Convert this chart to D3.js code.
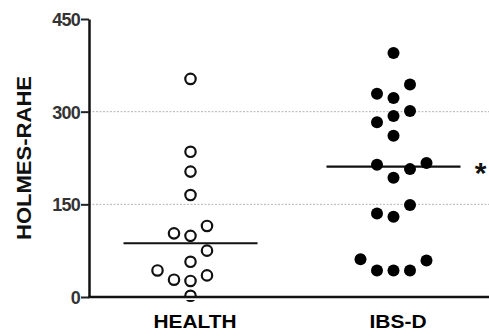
<!DOCTYPE html>
<html>
<head>
<meta charset="utf-8">
<script src="https://d3js.org/d3.v7.min.js"></script>
<style>
  body { margin: 0; background: #fff; }
  svg { display: block; font-family: "Liberation Sans", Arial, sans-serif; }
</style>
</head>
<body>
<div id="chart"></div>
<script>
// groups on the x axis
const groups = ["HEALTH", "IBS-D"];
const yTicks = [0, 150, 300, 450];

// Holmes-Rahe scores, with the swarm column of each dot
const healthValues = [353, 235, 203, 165, 103, 99, 115, 75, 57, 43, 28, 26, 35, 2];
const healthSlot   = [0, 0, 0, 0, -1, 0, 1, 1, 0, -2, -1, 0, 1, 0];
const ibsValues = [395, 344, 329, 322, 301, 293, 283, 261, 214, 207, 217, 193, 149, 135, 130, 61, 59, 43, 43, 43];
const ibsSlot   = [0, 1, -1, 0, 1, 0, -1, 0, -1, 1, 2, 0, 1, -1, 0, -2, 2, -1, 0, 1];

const medians = [87, 211];
const marks = ["", "*"];

const width = 489, height = 336;
const plotLeft = 89, plotTop = 19, plotBottom = 297;

const svg = d3.select("#chart").append("svg")
    .attr("width", width)
    .attr("height", height);

const y = d3.scaleLinear().domain([0, 450]).range([plotBottom, plotTop]);
const x = d3.scalePoint().domain(groups).range([plotLeft, 495]).padding(0.5);
const slotW = 16.5;

// dotted grid lines
svg.append("g")
    .selectAll("line")
    .data(yTicks.filter(d => d > 0 && d < 450))
    .join("line")
    .attr("x1", plotLeft).attr("x2", width)
    .attr("y1", d => y(d)).attr("y2", d => y(d))
    .attr("stroke", "#b5b5b5")
    .attr("stroke-width", 1)
    .attr("stroke-dasharray", "2,1.5");

// group labels
svg.append("g")
    .selectAll("text")
    .data(groups)
    .join("text")
    .attr("x", d => x(d) + 4.5)
    .attr("y", 328)
    .attr("text-anchor", "middle")
    .attr("font-size", 18)
    .attr("font-weight", "bold")
    .attr("fill", "#000")
    .attr("textLength", (d, i) => i === 0 ? 83 : 57)
    .attr("lengthAdjust", "spacingAndGlyphs")
    .text(d => d);

// y title
svg.append("text")
    .attr("transform", `translate(31,${(plotTop + plotBottom) / 2}) rotate(-90)`)
    .attr("text-anchor", "middle")
    .attr("font-size", 20)
    .attr("font-weight", "bold")
    .attr("fill", "#111")
    .attr("textLength", 164)
    .attr("lengthAdjust", "spacingAndGlyphs")
    .text("HOLMES-RAHE");

// median lines
svg.append("g")
    .selectAll("line")
    .data(medians)
    .join("line")
    .attr("x1", (d, i) => x(groups[i]) - 67)
    .attr("x2", (d, i) => x(groups[i]) + 67)
    .attr("y1", d => y(d)).attr("y2", d => y(d))
    .attr("stroke", "#111")
    .attr("stroke-width", 2.2);

// health: open circles
svg.append("g")
    .selectAll("circle")
    .data(healthValues)
    .join("circle")
    .attr("cx", (d, i) => x("HEALTH") + healthSlot[i] * slotW)
    .attr("cy", d => y(d))
    .attr("r", 5.2)
    .attr("fill", "#fff")
    .attr("stroke", "#111")
    .attr("stroke-width", 2.2);

// ibs-d: filled dots
svg.append("g")
    .selectAll("circle")
    .data(ibsValues)
    .join("circle")
    .attr("cx", (d, i) => x("IBS-D") + ibsSlot[i] * slotW)
    .attr("cy", d => y(d))
    .attr("r", 6)
    .attr("fill", "#000");

// x axis line, drawn over the dots
svg.append("rect")
    .attr("x", plotLeft - 1).attr("width", width - plotLeft + 1)
    .attr("y", y(0) - 1).attr("height", 4)
    .attr("fill", "#fff");
svg.append("line")
    .attr("x1", plotLeft - 1).attr("x2", width)
    .attr("y1", y(0)).attr("y2", y(0))
    .attr("stroke", "#111")
    .attr("stroke-width", 2.5);

// y axis
const yAxis = svg.append("g")
    .attr("transform", `translate(${plotLeft},0)`)
    .call(d3.axisLeft(y).tickValues(yTicks).tickSize(8).tickSizeOuter(0).tickPadding(1));
yAxis.select(".domain").attr("stroke", "#111").attr("stroke-width", 2.5);
yAxis.selectAll(".tick line").attr("stroke", "#222").attr("stroke-width", 2);
yAxis.selectAll(".tick text")
    .attr("fill", "#333")
    .attr("font-size", 18)
    .attr("font-weight", "bold")
    .attr("letter-spacing", -0.8)
    .attr("dy", "0.36em");

// significance mark
svg.append("g")
    .selectAll("text")
    .data(marks)
    .join("text")
    .attr("x", (d, i) => x(groups[i]) + 87)
    .attr("y", (d, i) => y(medians[i]) + 16)
    .attr("text-anchor", "middle")
    .attr("font-size", 30)
    .attr("font-weight", "bold")
    .attr("fill", "#111")
    .text(d => d);
</script>
</body>
</html>
